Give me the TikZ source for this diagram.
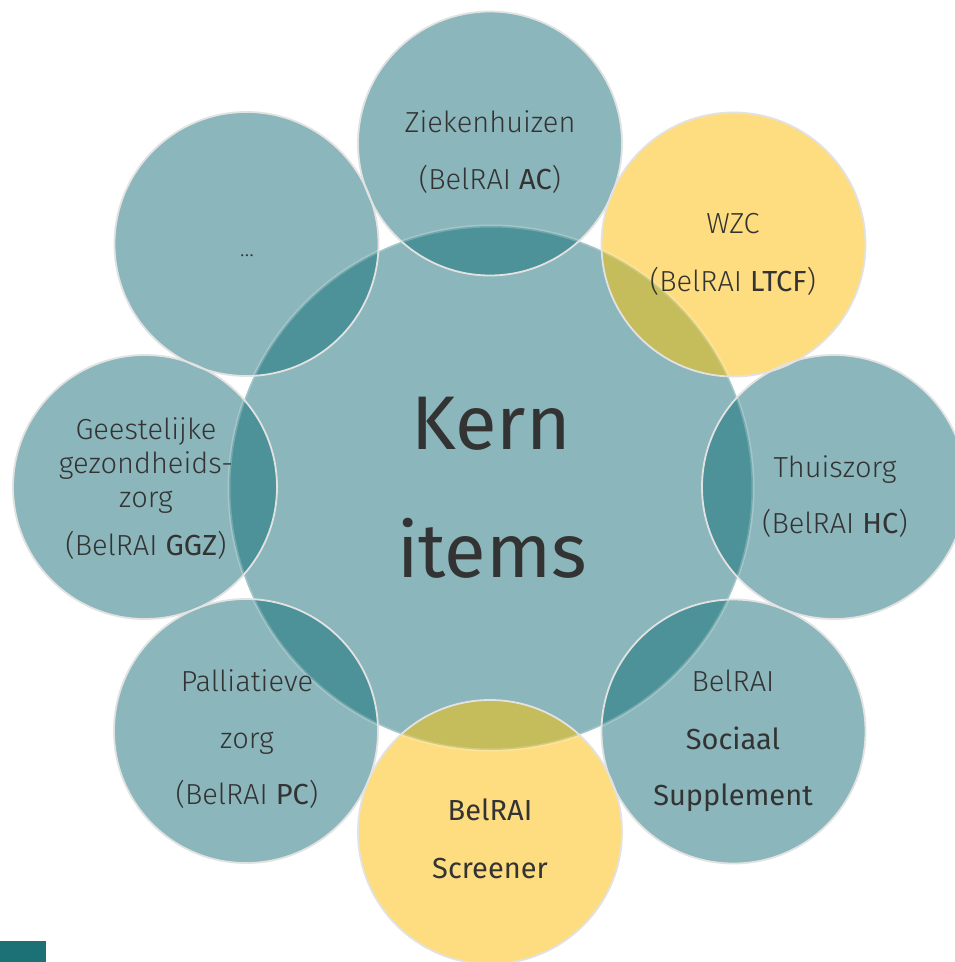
\documentclass[tikz,border=0pt]{standalone}
\usepackage{fontspec}
\setmainfont{Fira Sans Light}[BoldFont={Fira Sans}]
\newfontfamily\kernfont{Fira Sans}
\definecolor{tealfill}{HTML}{8BB6BB}
\definecolor{tealdark}{HTML}{4C9298}
\definecolor{yellowfill}{HTML}{FEDD80}
\definecolor{olive}{HTML}{C5BC5B}
\definecolor{ringline}{HTML}{E2E2E2}
\definecolor{textgray}{HTML}{333333}
\definecolor{cornerteal}{HTML}{1B7176}
\tikzset{
  outline/.style={draw=ringline, line width=1.8pt},
  lbl/.style={anchor=base, text=textgray, font=\fontsize{29}{33}\selectfont, inner sep=0pt},
  kern/.style={anchor=base, text=textgray, font=\kernfont\fontsize{76}{84}\selectfont, inner sep=0pt},
}
\begin{document}
\begin{tikzpicture}[x=1pt,y=-1pt]
\useasboundingbox (0,0) rectangle (955,962);
\fill[white] (0,0) rectangle (955,962);
\coordinate (C) at (491,488);
\coordinate (zh) at (490,143.5);
\coordinate (wzc) at (733.5,244.5);
\coordinate (tz) at (834,487);
\coordinate (ss) at (733.5,731.5);
\coordinate (scr) at (490,832);
\coordinate (pc) at (246,731);
\coordinate (ggz) at (145,487);
\coordinate (dots) at (246.5,244);
% central
\fill[tealfill] (C) circle[radius=262pt];
% outer fills
\foreach \p in {zh,tz,ss,pc,ggz,dots} {\fill[tealfill] (\p) circle[radius=132pt];}
\foreach \p in {wzc,scr} {\fill[yellowfill] (\p) circle[radius=132pt];}
% overlaps
\begin{scope}
  \clip (C) circle[radius=262pt];
  \foreach \p in {zh,tz,ss,pc,ggz,dots} {\fill[tealdark] (\p) circle[radius=132pt];}
  \foreach \p in {wzc,scr} {\fill[olive] (\p) circle[radius=132pt];}
\end{scope}
\draw[white, line width=3pt, opacity=0.22] (C) circle[radius=262pt];
\foreach \p in {zh,wzc,tz,ss,scr,pc,ggz,dots} {\draw[outline] (\p) circle[radius=132pt];}
% corner block
\fill[cornerteal] (0,941) rectangle (46,962);
% texts
\node[kern] (k1) at (491,449) {Kern};
\node[kern] (k2) at (492,577) {items};
\node[lbl] (zh1) at (490,132) {Ziekenhuizen};
\node[lbl] (zh2) at (490,189) {(BelRAI \textbf{AC})};
\node[lbl] (wz1) at (733,233) {WZC};
\node[lbl] (wz2) at (733,291) {(BelRAI \textbf{LTCF})};
\node[lbl] (tz1) at (835,477) {Thuiszorg};
\node[lbl] (tz2) at (835,533) {(BelRAI \textbf{HC})};
\node[lbl] (ss1) at (733,691) {BelRAI};
\node[lbl] (ss2) at (733,749) {\textbf{Sociaal}};
\node[lbl] (ss3) at (733,805) {\textbf{Supplement}};
\node[lbl] (sc1) at (490,820) {\textbf{BelRAI}};
\node[lbl] (sc2) at (490,878) {\textbf{Screener}};
\node[lbl] (pc1) at (247,691) {Palliatieve};
\node[lbl] (pc2) at (247,748) {zorg};
\node[lbl] (pc3) at (247,804) {(BelRAI \textbf{PC})};
\node[lbl] (gg1) at (146,439) {Geestelijke};
\node[lbl] (gg2) at (146,473) {gezondheids-};
\node[lbl] (gg3) at (146,507) {zorg};
\node[lbl] (gg4) at (146,555) {(BelRAI \textbf{GGZ})};
\node[lbl, font=\fontsize{22}{24}\selectfont] (dt) at (247,256) {…};
\end{tikzpicture}
\end{document}
